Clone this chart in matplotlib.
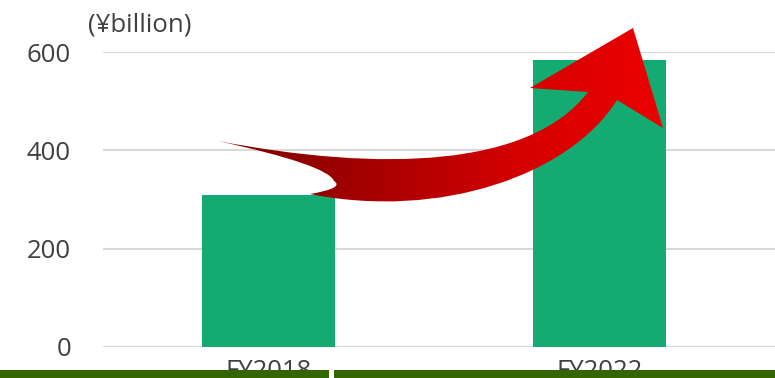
import numpy as np
import matplotlib.pyplot as plt
from matplotlib.path import Path
from matplotlib.patches import PathPatch, Rectangle
from matplotlib.colors import LinearSegmentedColormap

plt.rcParams['font.family'] = ['Open Sans', 'DejaVu Sans']

# data
years = ['FY2018', 'FY2022']
values = [309, 584]
yticks = [0, 200, 400, 600]
unit = '(¥billion)'

bar_color = '#13ab72'
text_color = '#404040'
grid_color = '#d9d9d9'

W, H = 775, 378
fig = plt.figure(figsize=(W / 100, H / 100), dpi=100)
ax = fig.add_axes([103 / W, 31 / H, 1 - 103 / W, (347 - 52) / H])

x = np.arange(len(years))
ax.bar(x, values, width=0.4, color=bar_color, zorder=2)
ax.set_xlim(-0.5, 1.53)
ax.set_ylim(0, 600)
ax.set_yticks(yticks)
ax.set_xticks(x)
ax.set_xticklabels(years)
ax.grid(axis='y', color=grid_color, linewidth=1.5, zorder=0)
ax.set_axisbelow(True)
for s in ax.spines.values():
    s.set_visible(False)
ax.tick_params(axis='both', length=0, labelsize=18.5, labelcolor=text_color)
ax.tick_params(axis='y', pad=23)
ax.tick_params(axis='x', pad=9)
fig.text(88 / W, 1 - 31 / H, unit, fontsize=18.5, color=text_color,
         ha='left', va='baseline')

# overlay in pixel coordinates for the arrow and the bottom band
ov = fig.add_axes([0, 0, 1, 1])
ov.set_xlim(0, W)
ov.set_ylim(H, 0)
ov.axis('off')

verts = [
    (218, 141), (380, 172), (530, 168), (588, 92),
    (530, 88), (633, 28), (663, 128), (617, 100),
    (570, 175), (440, 220), (310, 194),
    (345, 188), (334, 181),
    (328, 165), (218, 141),
]
codes = [Path.MOVETO, Path.CURVE4, Path.CURVE4, Path.CURVE4,
         Path.LINETO, Path.LINETO, Path.LINETO, Path.LINETO,
         Path.CURVE4, Path.CURVE4, Path.CURVE4,
         Path.CURVE3, Path.CURVE3,
         Path.CURVE3, Path.CURVE3]
arrow = PathPatch(Path(verts, codes), facecolor='none', edgecolor='none')
ov.add_patch(arrow)
cmap = LinearSegmentedColormap.from_list('red', ['#7a0000', '#a30000', '#d40000', '#ee0000'])
grad = np.linspace(0, 1, 256).reshape(1, -1)
im = ov.imshow(grad, cmap=cmap, extent=(210, 670, 210, 20), aspect='auto', zorder=5)
im.set_clip_path(arrow)
ov.set_xlim(0, W)
ov.set_ylim(H, 0)

band = '#336600'
ov.add_patch(Rectangle((0, 370), 329, 8, facecolor=band, edgecolor='none', zorder=6))
ov.add_patch(Rectangle((334, 370), W - 334, 8, facecolor=band, edgecolor='none', zorder=6))

fig.savefig('out.png', dpi=100)
